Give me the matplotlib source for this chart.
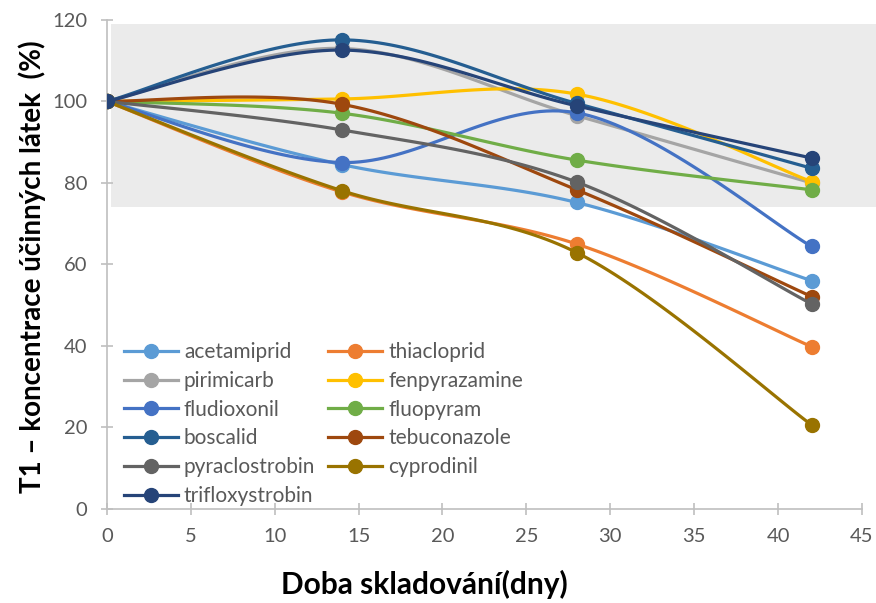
import numpy as np
import matplotlib
matplotlib.use('Agg')
import matplotlib.pyplot as plt
from matplotlib.lines import Line2D
from matplotlib.patches import Rectangle

plt.rcParams['font.family'] = ['Lato', 'DejaVu Sans']

days = [0, 14, 28, 42]

names = ['acetamiprid', 'thiacloprid', 'pirimicarb', 'fenpyrazamine', 'fludioxonil',
         'fluopyram', 'boscalid', 'tebuconazole', 'pyraclostrobin', 'cyprodinil',
         'trifloxystrobin']

acetamiprid = [100, 84.5, 75.2, 56.0]
thiacloprid = [100, 77.8, 65.0, 39.8]
pirimicarb = [100, 113.0, 96.5, 80.0]
fenpyrazamine = [100, 100.6, 101.8, 80.3]
fludioxonil = [100, 85.0, 97.2, 64.4]
fluopyram = [100, 97.1, 85.6, 78.3]
boscalid = [100, 115.1, 99.5, 83.6]
tebuconazole = [100, 99.3, 78.3, 52.1]
pyraclostrobin = [100, 93.0, 80.2, 50.3]
cyprodinil = [100, 78.1, 62.9, 20.6]
trifloxystrobin = [100, 112.6, 98.9, 86.1]

series = [acetamiprid, thiacloprid, pirimicarb, fenpyrazamine, fludioxonil,
          fluopyram, boscalid, tebuconazole, pyraclostrobin, cyprodinil,
          trifloxystrobin]

colors = ['#5B9BD5', '#ED7D31', '#A5A5A5', '#FFC000', '#4472C4', '#70AD47',
          '#255E91', '#9E480E', '#636363', '#997300', '#264478']


def smooth(x, y, n=40):
    # excel-like smoothed line (catmull-rom bezier segments)
    x = np.asarray(x, float)
    y = np.asarray(y, float)
    px = np.concatenate([[x[0]], x, [x[-1]]])
    py = np.concatenate([[y[0]], y, [y[-1]]])
    xs, ys = [], []
    t = np.linspace(0, 1, n)
    for i in range(1, len(px) - 2):
        p0 = np.array([px[i], py[i]])
        p3 = np.array([px[i + 1], py[i + 1]])
        c1 = p0 + (np.array([px[i + 1], py[i + 1]]) - np.array([px[i - 1], py[i - 1]])) / 6
        c2 = p3 - (np.array([px[i + 2], py[i + 2]]) - np.array([px[i], py[i]])) / 6
        b = ((1 - t) ** 3)[:, None] * p0 + (3 * (1 - t) ** 2 * t)[:, None] * c1 \
            + (3 * (1 - t) * t ** 2)[:, None] * c2 + (t ** 3)[:, None] * p3
        xs.append(b[:, 0])
        ys.append(b[:, 1])
    return np.concatenate(xs), np.concatenate(ys)


fig = plt.figure(figsize=(8.76, 6.03), dpi=100)
ax = fig.add_axes([0.122, 0.156, 0.862, 0.811])

# grey band (target range)
ax.add_patch(Rectangle((0.005, 74 / 120), 1.05, (119 - 74) / 120, transform=ax.transAxes,
                       facecolor='#EBEBEB', edgecolor='none', zorder=0, clip_on=False))

for i, (nm, vals, c) in enumerate(zip(names, series, colors)):
    sx, sy = smooth(days, vals)
    ax.plot(sx, sy, color=c, lw=2.3, zorder=2 + i * 0.1, solid_capstyle='round')
    ax.plot(days, vals, 'o', color=c, ms=10, zorder=2.05 + i * 0.1)

ax.set_xlim(0, 45)
ax.set_ylim(0, 120)
ax.set_xticks(range(0, 46, 5))
ax.set_yticks(range(0, 121, 20))

for s in ['top', 'right']:
    ax.spines[s].set_visible(False)
for s in ['left', 'bottom']:
    ax.spines[s].set_color('#BFBFBF')
    ax.spines[s].set_linewidth(1.2)
ax.tick_params(direction='inout', length=8, width=1.2, color='#BFBFBF',
               labelsize=14.5, labelcolor='#595959')
ax.tick_params(axis='x', pad=10)
ax.tick_params(axis='y', pad=10)

ax.set_xlabel('Doba skladování(dny)', fontsize=21.5, fontweight='bold')
ax.xaxis.set_label_coords(0.421, -0.125)
ax.set_ylabel('T1 – koncentrace účinných látek  (%)', fontsize=20, fontweight='bold')
ax.yaxis.set_label_coords(-0.080, 0.495)

# legend order: row-major in the original -> column-major for matplotlib
order = [0, 2, 4, 6, 8, 10, 1, 3, 5, 7, 9]
handles = [Line2D([], [], color=colors[k], lw=2.3, marker='o', ms=10) for k in order]
labels = [names[k] for k in order]
ax.legend(handles, labels, ncol=2, loc='lower left', bbox_to_anchor=(0.0, -0.028),
          frameon=False, fontsize=15, labelcolor='#595959', handlelength=2.6,
          handletextpad=0.3, columnspacing=0.6, labelspacing=0.42, borderpad=0.3)

fig.savefig('out.png', dpi=100)
